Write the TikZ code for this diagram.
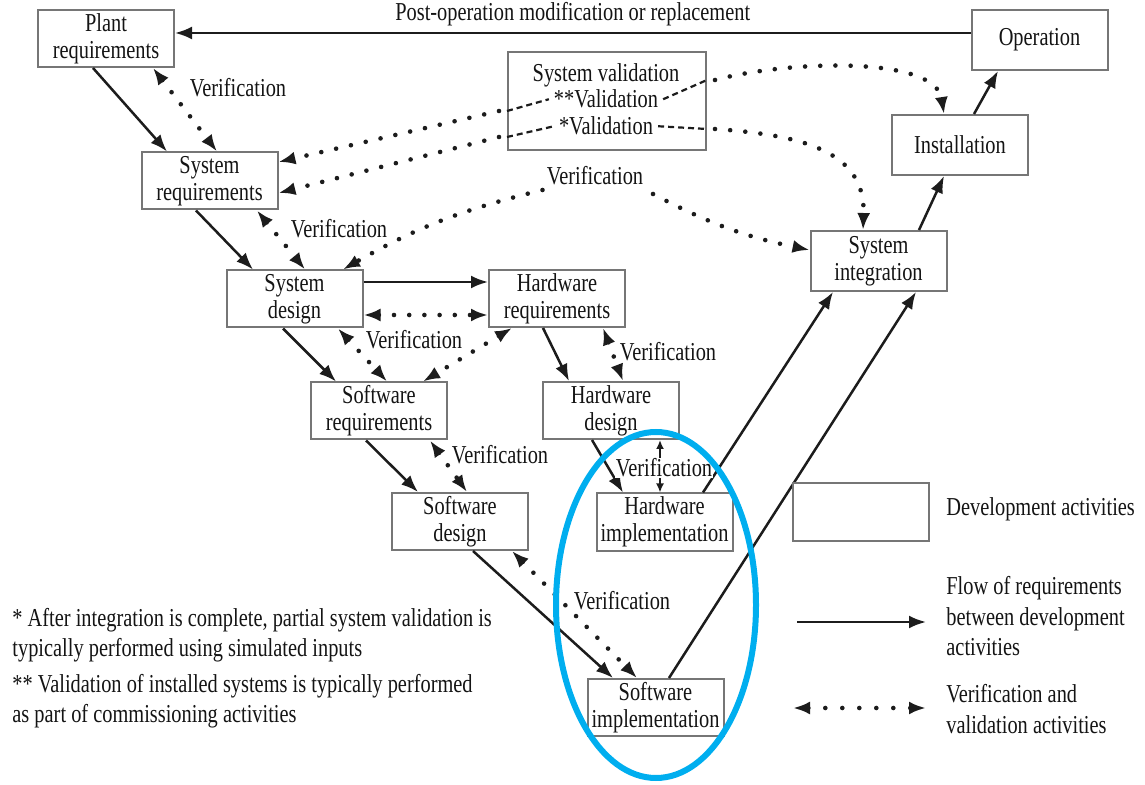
\documentclass[tikz,border=0pt]{standalone}
\usepackage{fontspec}
\setmainfont{Liberation Serif}[FakeStretch=0.79]
\usetikzlibrary{arrows.meta,calc}
\definecolor{boxgray}{RGB}{118,118,118}
\definecolor{linek}{RGB}{28,28,28}
\definecolor{ringblue}{RGB}{0,174,239}
\begin{document}
\begin{tikzpicture}[x=0.5pt,y=-0.5pt,
  every node/.style={font=\fontsize{12.9}{13.5}\selectfont, text=black!92},
  devbox/.style={draw=boxgray, line width=1pt, fill=white, minimum width=68pt,
    minimum height=28.5pt, inner sep=0pt, align=center},
  flow/.style={draw=linek, line width=1.25pt, -{Latex[length=8.5pt,width=6.5pt]}},
  vdot/.style={draw=linek, line width=2.3pt, line cap=round, dash pattern=on 0pt off 7.6pt},
  vboth/.style={vdot, {Latex[length=8.5pt,width=6.5pt]}-{Latex[length=8.5pt,width=6.5pt]}},
  vend/.style={vdot, -{Latex[length=8.5pt,width=6.5pt]}},
  vdash/.style={draw=linek, line width=1.1pt, dash pattern=on 3pt off 2pt},
  vlabel/.style={inner sep=1pt},
  note/.style={font=\fontsize{12.9}{15.25}\selectfont, align=left, inner sep=0pt, anchor=west}
]
\useasboundingbox (0,0) rectangle (1145,785);

% development boxes
\node[devbox] (plant)  at (106,38.5)   {Plant\\requirements};
\node[devbox] (sysreq) at (209.5,181)  {System\\requirements};
\node[devbox] (sysdes) at (294.5,299)  {System\\design};
\node[devbox] (hwreq)  at (557,298.5)  {Hardware\\requirements};
\node[devbox] (swreq)  at (379,411)    {Software\\requirements};
\node[devbox] (swdes)  at (460,521.5)  {Software\\design};
\node[devbox] (hwdes)  at (611,410.5)  {Hardware\\design};
\node[devbox] (hwimpl) at (664.5,522)  {Hardware\\implementation};
\node[devbox] (swimpl) at (655.5,707.5){Software\\implementation};
\node[devbox, minimum height=30pt] (sysint)  at (878.5,261) {System\\integration};
\node[devbox, minimum height=30pt] (install) at (960,145)   {Installation};
\node[devbox, minimum height=30pt] (oper)    at (1039.5,40) {Operation};
\node[devbox, minimum width=99pt, minimum height=49pt] (sysval) at (607,101) {};
\node[anchor=base] (sv1) at (606,82)  {System validation};
\node[anchor=base] (sv2) at (606,108) {**Validation};
\node[anchor=base] (sv3) at (606,135) {*Validation};

% flow of requirements
\draw[flow] ([yshift=3.5pt]oper.west) -- ([yshift=3.5pt]oper.west -| plant.east)
  node[midway, above=3pt, inner sep=0pt] (postop) {Post-operation modification or replacement};
\draw[flow] ([xshift=-6.5pt]plant.south)  -- ([xshift=-21.25pt]sysreq.north);
\draw[flow] ([xshift=-6.75pt]sysreq.south) -- ([xshift=-20.75pt]sysdes.north);
\draw[flow] ([yshift=8.5pt]sysdes.east) -- ([yshift=8.5pt]sysdes.east -| hwreq.west);
\draw[flow] ([xshift=-5.75pt]sysdes.south) -- ([xshift=-21.5pt]swreq.north);
\draw[flow] ([xshift=-6.5pt]swreq.south) -- ([xshift=-21pt]swdes.north);
\draw[flow] ([xshift=-7pt]hwreq.south) -- ([xshift=-21pt]hwdes.north);
\draw[flow] ([xshift=-9.5pt]hwdes.south) -- ([xshift=-20.75pt]hwimpl.north);
\draw[flow] ([xshift=6.5pt]swdes.south) -- ([xshift=-21.25pt]swimpl.north);
\draw[flow] ([xshift=6.75pt]swimpl.north) -- ([xshift=18.75pt]sysint.south);
\draw[flow] ([xshift=19.25pt]hwimpl.north) -- ([xshift=-22.75pt]sysint.south);
\draw[flow] ([xshift=20.25pt]sysint.north) -- ([xshift=-8pt]install.south);
\draw[flow] ([xshift=7pt]install.north) -- ([xshift=-20.75pt]oper.south);

% verification labels
\node[vlabel] (vl1) at (238,88)  {Verification};
\node[vlabel] (vl2) at (339,229) {Verification};
\node[vlabel] (vtop) at (595,176) {Verification};
\node[vlabel] (vl3) at (414,340) {Verification};
\node[vlabel] (vl4) at (668,352) {Verification};
\node[vlabel] (vl5) at (500,455) {Verification};
\node[vlabel] (vl7) at (622,601) {Verification};

% verification and validation
\draw[vboth] ([xshift=23.5pt]plant.south) -- ([xshift=3.75pt]sysreq.north);
\draw[vboth] ([xshift=23.75pt]sysreq.south) -- ([xshift=5.25pt]sysdes.north);
\draw[vboth] ([yshift=-8pt]sysdes.east) -- ([yshift=-8pt]sysdes.east -| hwreq.west);
\draw[vboth] ([xshift=21.75pt]sysdes.south) -- ([xshift=4pt]swreq.north);
\draw[vboth] ([xshift=-22.5pt]hwreq.south) -- ([xshift=22pt]swreq.north);
\draw[vboth] ([xshift=23pt]hwreq.south) -- ([xshift=6pt]hwdes.north);
\draw[vboth] ([xshift=25.5pt]swreq.south) -- ([xshift=3.5pt]swdes.north);
\draw[vboth] ([xshift=26pt]swdes.south) -- ([xshift=-9.25pt]swimpl.north);
\draw[vend] ([xshift=-1pt,yshift=-7pt]vtop.west) to[bend right=8] ([xshift=24.25pt]sysdes.north);
\draw[vend] ([xshift=3.75pt,yshift=-9pt]vtop.east) to[bend right=8] ([yshift=5.5pt]sysint.west);
\draw[draw=linek, line width=0.9pt, {Latex[length=4.5pt,width=4pt]}-{Latex[length=4.5pt,width=4pt]}]
  ([xshift=24.5pt]hwdes.south) -- ([xshift=24.5pt]hwdes.south |- hwimpl.north);
\node[vlabel, fill=white, inner sep=0.3pt] (vl6) at (664,468) {Verification};

% validation links
\coordinate (vA) at ([yshift=-5pt]sysval.west);
\coordinate (vB) at ([yshift=-18pt]sysval.west);
\coordinate (vC) at ([yshift=10.5pt]sysval.east);
\coordinate (vD) at ([yshift=-14pt]sysval.east);
\draw[vdash] (vA) -- ([xshift=1pt]sv2.west);
\draw[vdash] ([xshift=-1pt]sv2.east) -- (vC);
\draw[vdash] (vB) -- ([xshift=1pt]sv3.west);
\draw[vdash] ([xshift=-1pt]sv3.east) -- (vD);
\draw[vend] ([xshift=-4pt]vA) -- ([yshift=9.5pt]sysreq.east);
\draw[vend] ([xshift=-4pt]vB) -- ([yshift=-6pt]sysreq.east);
\draw[vend] ([xshift=4pt]vC) .. controls (790,60) and (935,56) .. ([xshift=-8pt]install.north);
\draw[vend] ([xshift=4pt]vD) .. controls (800,135) and (866,150) .. ([xshift=-7.75pt]sysint.north);

% legend
\node[devbox] (legbox) at (861,512) {};
\node[note] (legdev) at (946,509) {Development activities};
\coordinate (lf1) at (797,622);
\coordinate (lf2) at (926,622);
\draw[flow] (lf1) -- (lf2);
\node[note] (legflow) at (946,616.5) {Flow of requirements\\between development\\activities};
\coordinate (lv1) at (793,708);
\coordinate (lv2) at (926,708);
\draw[vboth, dash pattern=on 0pt off 8.5pt] (lv1) -- (lv2);
\node[note] (legver) at (946,709) {Verification and\\validation activities};

% notes
\node[note] (note1) at (12,635) {* After integration is complete, partial system validation is\\typically performed using simulated inputs};
\node[note] (note2) at (12,701) {** Validation of installed systems is typically performed\\as part of commissioning activities};

% highlight
\draw[ringblue, line width=3pt] (656,605) ellipse [x radius=50pt, y radius=86.5pt];
\end{tikzpicture}
\end{document}
